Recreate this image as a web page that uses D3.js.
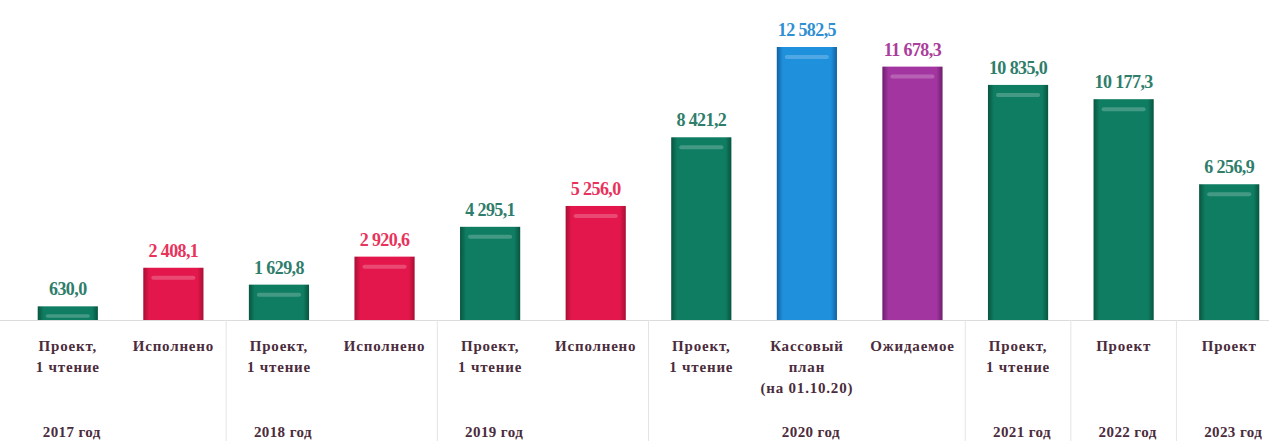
<!DOCTYPE html>
<html>
<head>
<meta charset="utf-8">
<script src="https://cdn.jsdelivr.net/npm/d3@7"></script>
<style>
  body { margin: 0; background: #fff; }
  svg { display: block; }
  text { font-family: 'Liberation Serif', 'DejaVu Serif', 'Times New Roman', serif; font-weight: bold; }
</style>
</head>
<body>
<svg class="bar-chart"></svg>
<script>
const categories = [
  'Проект,\n1 чтение', 'Исполнено',
  'Проект,\n1 чтение', 'Исполнено',
  'Проект,\n1 чтение', 'Исполнено',
  'Проект,\n1 чтение', 'Кассовый\nплан\n(на 01.10.20)', 'Ожидаемое',
  'Проект,\n1 чтение', 'Проект', 'Проект'
];
const values = [630.0, 2408.1, 1629.8, 2920.6, 4295.1, 5256.0, 8421.2, 12582.5, 11678.3, 10835.0, 10177.3, 6256.9];
const valueLabels = ['630,0', '2 408,1', '1 629,8', '2 920,6', '4 295,1', '5 256,0', '8 421,2', '12 582,5', '11 678,3', '10 835,0', '10 177,3', '6 256,9'];
const kinds = ['plan', 'done', 'plan', 'done', 'plan', 'done', 'plan', 'cash', 'expect', 'plan', 'plan', 'plan'];
const years = ['2017 год', '2018 год', '2019 год', '2020 год', '2021 год', '2022 год', '2023 год'];
const yearStart = [0, 2, 4, 6, 9, 10, 11];
const yearLabelAt = [0, 2, 4, 7, 9, 10, 11];

const svgWidth = 1269;
const svgHeight = 441;
const baseline = 320;

const palette = {
  plan:   { bar: '#0f7d62', dark: '#08553f', text: '#2f7d6b' },
  done:   { bar: '#e3174b', dark: '#a80f34', text: '#e8335c' },
  cash:   { bar: '#1e90dc', dark: '#12619f', text: '#2f8fd2' },
  expect: { bar: '#a2359f', dark: '#6d1f6b', text: '#ab3d9c' }
};

const svg = d3.select('.bar-chart')
  .attr('width', svgWidth)
  .attr('height', svgHeight);

const idx = d3.range(categories.length);
const x = d3.scaleBand()
  .domain(idx)
  .range([15, 1282])
  .paddingInner(0.43)
  .paddingOuter(0.215);
const y = d3.scaleLinear()
  .domain([0, 12582.5])
  .range([baseline, 47]);

// gradients for bevelled bars
const defs = svg.append('defs');
Object.entries(palette).forEach(([k, c]) => {
  const g = defs.append('linearGradient').attr('id', 'g-' + k)
    .attr('x1', 0).attr('x2', 1).attr('y1', 0).attr('y2', 0);
  g.append('stop').attr('offset', '0%').attr('stop-color', c.dark);
  g.append('stop').attr('offset', '10%').attr('stop-color', c.bar);
  g.append('stop').attr('offset', '90%').attr('stop-color', c.bar);
  g.append('stop').attr('offset', '100%').attr('stop-color', c.dark);
});

// baseline + separators
svg.append('line')
  .attr('x1', 0).attr('x2', svgWidth)
  .attr('y1', baseline + 0.5).attr('y2', baseline + 0.5)
  .attr('stroke', '#dcdcdc');

const step = x.step();
svg.selectAll('.sep')
  .data(yearStart.slice(1))
  .join('line')
  .attr('class', 'sep')
  .attr('x1', d => x(d) - (step - x.bandwidth()) / 2)
  .attr('x2', d => x(d) - (step - x.bandwidth()) / 2)
  .attr('y1', baseline)
  .attr('y2', svgHeight)
  .attr('stroke', '#e4e4e4');

// bars
const bars = svg.selectAll('.bar')
  .data(idx)
  .join('g')
  .attr('class', 'bar');

bars.append('rect')
  .attr('x', d => x(d))
  .attr('y', d => y(values[d]))
  .attr('width', x.bandwidth())
  .attr('height', d => baseline - y(values[d]))
  .attr('fill', d => `url(#g-${kinds[d]})`);

// top bevel highlight
bars.append('rect')
  .attr('x', d => x(d) + 8)
  .attr('y', d => y(values[d]) + 8)
  .attr('width', x.bandwidth() - 16)
  .attr('height', d => Math.min(4, (baseline - y(values[d])) / 4))
  .attr('rx', 2)
  .attr('fill', '#ffffff')
  .attr('opacity', 0.22);

// value labels
svg.selectAll('.val')
  .data(idx)
  .join('text')
  .attr('class', 'val')
  .attr('x', d => x(d) + x.bandwidth() / 2)
  .attr('y', d => y(values[d]) - 11)
  .attr('text-anchor', 'middle')
  .attr('font-size', 18)
  .attr('letter-spacing', -0.6)
  .attr('fill', d => palette[kinds[d]].text)
  .text(d => valueLabels[d]);

// category labels
const cat = svg.selectAll('.cat')
  .data(idx)
  .join('text')
  .attr('class', 'cat')
  .attr('text-anchor', 'middle')
  .attr('font-size', 15)
  .attr('letter-spacing', 0.8)
  .attr('fill', '#4b2c3c');
cat.each(function(d) {
  const t = d3.select(this);
  categories[d].split('\n').forEach((line, i) => {
    t.append('tspan')
      .attr('x', x(d) + x.bandwidth() / 2)
      .attr('y', 351 + i * 21)
      .text(line);
  });
});

// year labels
svg.selectAll('.year')
  .data(years)
  .join('text')
  .attr('class', 'year')
  .attr('x', (d, i) => x(yearLabelAt[i]) + x.bandwidth() / 2 + 4)
  .attr('y', 437)
  .attr('text-anchor', 'middle')
  .attr('font-size', 15)
  .attr('letter-spacing', 0.4)
  .attr('fill', '#4b2c3c')
  .text(d => d);
</script>
</body>
</html>
